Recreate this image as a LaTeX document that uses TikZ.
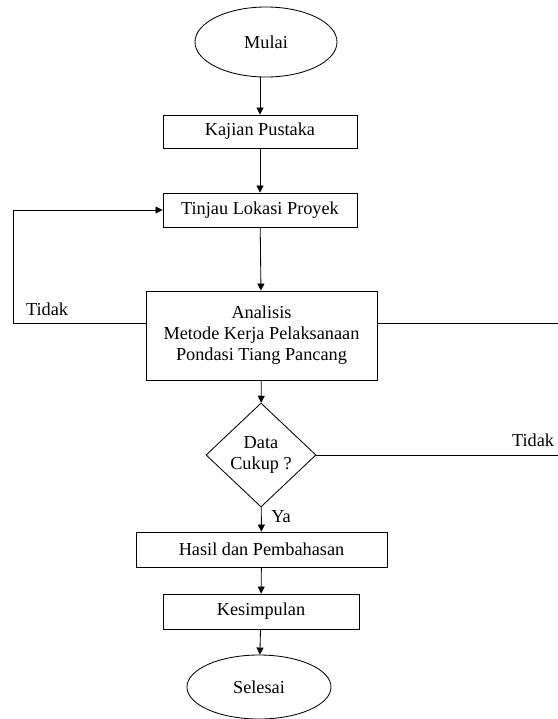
\documentclass[tikz,border=0pt]{standalone}
\usepackage{fontspec}
\setmainfont{Liberation Serif}
\usetikzlibrary{shapes.geometric, arrows.meta}

\begin{document}
\begin{tikzpicture}[x=0.025cm, y=-0.025cm,
    every node/.style={font=\fontsize{13}{15}\selectfont},
    kotak/.style={draw, line width=0.6pt, rectangle, align=center, inner sep=2pt},
    oval/.style={draw, line width=0.6pt, ellipse, inner sep=1pt},
    belah/.style={draw, line width=0.6pt, diamond, align=center, inner sep=1pt},
    garis/.style={line width=0.6pt},
    panah/.style={line width=0.6pt, -{Triangle[length=5pt, width=5pt]}}]
            \useasboundingbox (0,0) rectangle (558,719);

            % Langkah-langkah
            \node[oval, minimum width=3.55cm, minimum height=1.75cm] (mulai) at (266,42) {Mulai};
            \node[kotak, minimum width=4.85cm, minimum height=0.825cm] (kajian) at (260,131.5) {Kajian Pustaka};
            \node[kotak, minimum width=4.85cm, minimum height=0.85cm] (tinjau) at (260,210) {Tinjau Lokasi Proyek};
            \node[kotak, minimum width=5.775cm, minimum height=2.225cm] (analisis) at (261.5,335.5)
                {Analisis\\Metode Kerja Pelaksanaan\\Pondasi Tiang Pancang};
            \node[belah, minimum width=2.75cm, minimum height=2.575cm] (cek) at (261,455) {Data\\Cukup ?};
            \node[kotak, minimum width=6.275cm, minimum height=0.875cm] (hasil) at (261.5,549.5) {Hasil dan Pembahasan};
            \node[kotak, minimum width=4.9cm, minimum height=0.875cm] (kesimpulan) at (261,611.5) {Kesimpulan};
            \node[oval, minimum width=3.6cm, minimum height=1.6cm] (selesai) at (259,687) {Selesai};

            % Titik bantu
            \coordinate (kiriA) at (13,210);
            \coordinate (kiriB) at (13,323);
            \coordinate (kananA) at (558,323);
            \coordinate (kananB) at (558,455);

            % Alur utama
            \draw[panah] (mulai.south -| kajian.north) -- (kajian.north);
            \draw[panah] (kajian) -- (tinjau);
            \draw[panah] (tinjau) -- (analisis);
            \draw[panah] (analisis) -- (cek);
            \draw[panah] (cek) -- (hasil);
            \draw[panah] (hasil) -- (kesimpulan);
            \draw[panah] (kesimpulan) -- (selesai);

            % Kembali / lanjut
            \draw[panah] (analisis.west |- kiriB) -- (kiriB) -- (kiriA) -- (tinjau.west);
            \draw[garis] (analisis.east |- kananA) -- (kananA);
            \draw[garis] (cek.east) -- (kananB);

            % Label
            \node (tidakKiri) at (47,309) {Tidak};
            \node (tidakKanan) at (533,440) {Tidak};
            \node (ya) at (281,517) {Ya};
        \end{tikzpicture}
\end{document}
